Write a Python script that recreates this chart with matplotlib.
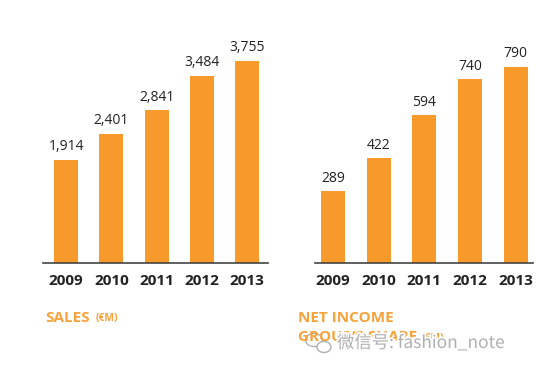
import matplotlib
matplotlib.use("Agg")
import matplotlib.pyplot as plt
import matplotlib.patheffects as pe
from matplotlib.patches import Ellipse

# data
years = ["2009", "2010", "2011", "2012", "2013"]
sales = [1914, 2401, 2841, 3484, 3755]
net_income = [289, 422, 594, 740, 790]

orange = "#F79A2B"
title_orange = "#F7A23A"
dark = "#222222"

W, H = 550, 371
fig = plt.figure(figsize=(W / 100, H / 100), dpi=100)
fig.patch.set_facecolor("white")


def px_axes(x0, x1, y_base, y_top):
    # pixel box (from top-left) -> figure fraction axes
    return fig.add_axes([x0 / W, 1 - y_base / H, (x1 - x0) / W, (y_base - y_top) / H])


def bar_panel(ax, values, xlim, ylim, width):
    x = range(len(values))
    ax.bar(x, values, width=width, color=orange, edgecolor="none", zorder=2)
    for xi, v in zip(x, values):
        ax.annotate(f"{v:,}", (xi, v), xytext=(0, 4), textcoords="offset points",
                    ha="center", va="bottom", fontsize=10, color=dark,
                    family="Open Sans")
    ax.set_xlim(*xlim)
    ax.set_ylim(*ylim)
    ax.set_xticks(list(x))
    ax.set_xticklabels(years, fontsize=11, fontweight="bold", color=dark,
                       family="Open Sans")
    ax.tick_params(axis="x", length=0, pad=8)
    ax.set_yticks([])
    for s in ["top", "right", "left"]:
        ax.spines[s].set_visible(False)
    ax.spines["bottom"].set_color("#444444")
    ax.spines["bottom"].set_linewidth(1.2)
    ax.patch.set_alpha(0)


ax1 = px_axes(43, 268, 263, 40)
bar_panel(ax1, sales, (-0.51, 4.46), (0, 223 / 0.0538), 0.53)

ax2 = px_axes(315, 533, 263, 40)
bar_panel(ax2, net_income, (-0.39, 4.38), (0, 223 / 0.2485), 0.525)

# titles under the panels
fig.text(45 / W, 1 - 318 / H, "SALES", fontsize=11, fontweight="bold",
         color=title_orange, family="Open Sans", va="center", ha="left")
fig.text(96 / W, 1 - 319 / H, "(€M)", fontsize=7.5, fontweight="bold",
         color=title_orange, family="Open Sans", va="center", ha="left")

fig.text(298 / W, 1 - 318 / H, "NET INCOME", fontsize=11, fontweight="bold",
         color=title_orange, family="Open Sans", va="center", ha="left")
fig.text(298 / W, 1 - 337 / H, "GROUP’S SHARE", fontsize=11, fontweight="bold",
         color=title_orange, family="Open Sans", va="center", ha="left")
fig.text(422 / W, 1 - 338 / H, "(€M)", fontsize=7.5, fontweight="bold",
         color=title_orange, family="Open Sans", va="center", ha="left")

# watermark
halo = [pe.withStroke(linewidth=2.5, foreground="white")]
for cx, cy, w, h in [(314, 340, 17, 13), (324, 347, 14, 11)]:
    e = Ellipse((cx / W, 1 - cy / H), w / W, h / H, transform=fig.transFigure,
                facecolor="white", edgecolor="#b0b0b0", linewidth=1.0)
    fig.add_artist(e)
fig.text(337 / W, 1 - 343 / H, "微信号: fashion_note", fontsize=12.5,
         color="#b0b0b0", family=["Noto Sans CJK SC", "DejaVu Sans"],
         va="center", ha="left", path_effects=halo)

fig.savefig("out.png", dpi=100)
